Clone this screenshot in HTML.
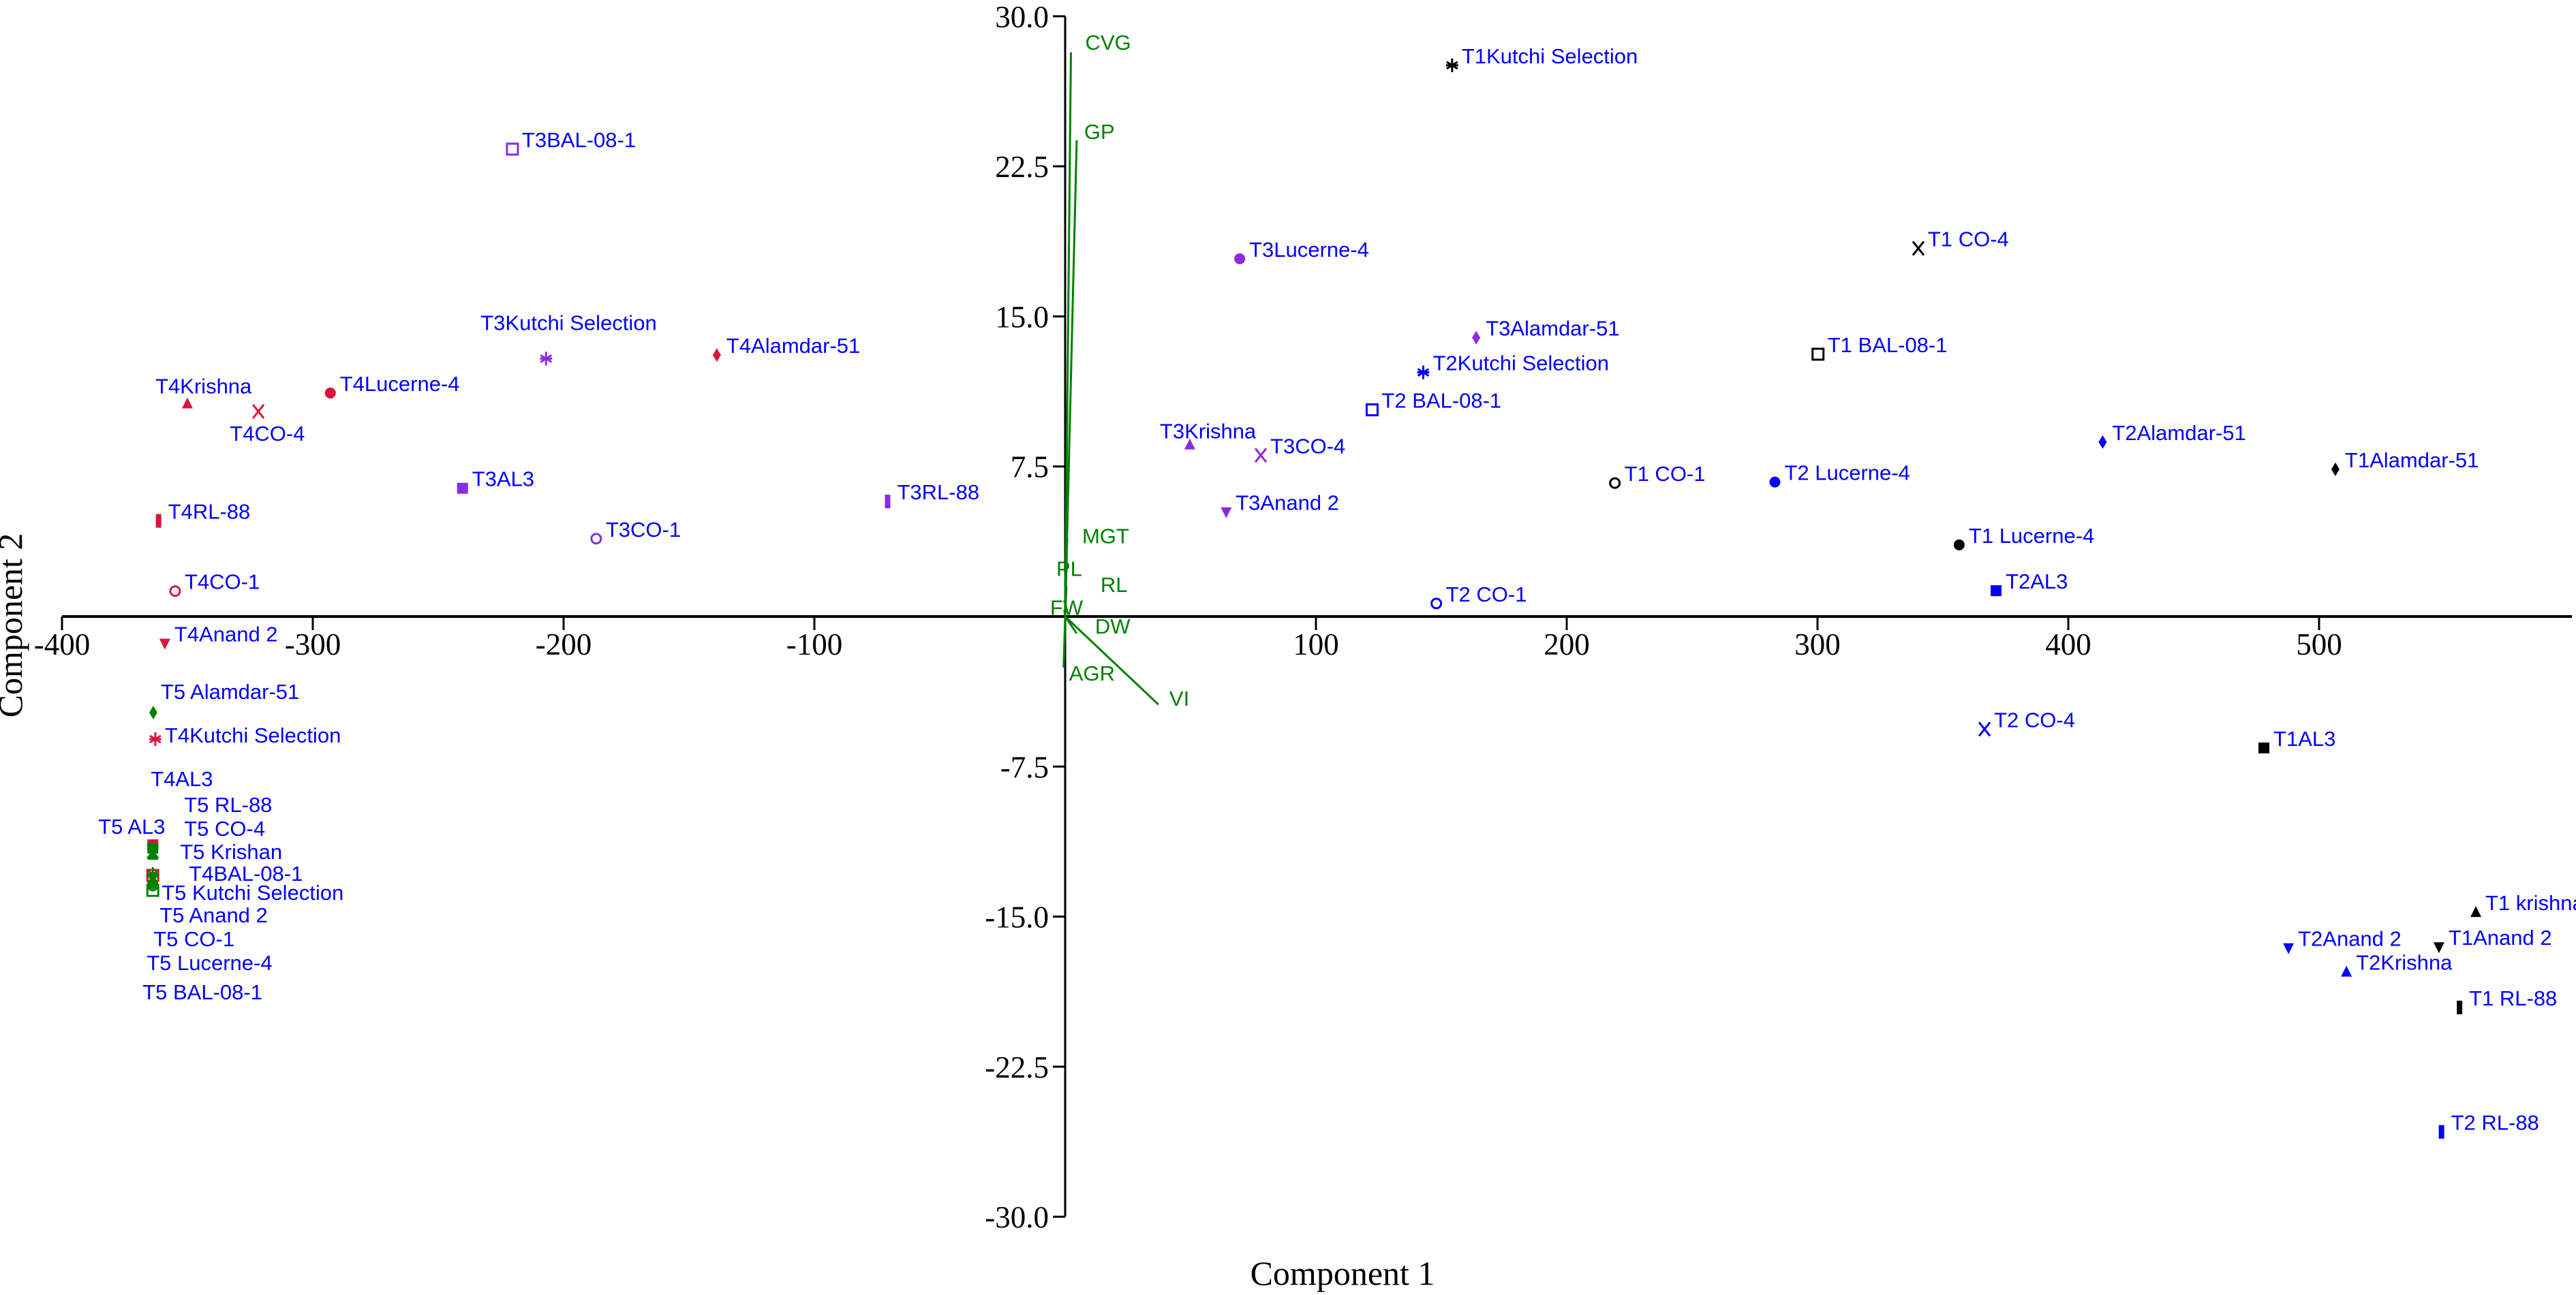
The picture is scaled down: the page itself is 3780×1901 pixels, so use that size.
<!DOCTYPE html>
<html><head><meta charset="utf-8"><style>
html,body{margin:0;padding:0;background:#fff;}
svg{display:block;}
.tk{font-family:"Liberation Serif",serif;font-size:45px;fill:#000;}
.lb{font-family:"Liberation Sans",sans-serif;font-size:31px;fill:#0000ff;}
.vl{font-family:"Liberation Sans",sans-serif;font-size:31px;fill:#008000;}
</style></head><body>
<svg id="chart" width="3780" height="1901" viewBox="0 0 3780 1901" xmlns="http://www.w3.org/2000/svg">
<g id="axes"></g>
<g id="vectors"></g>
<g id="points"></g>
<text class="tk" x="1970" y="1886" text-anchor="middle" style="font-size:50px">Component 1</text>
<text class="tk" x="0" y="0" text-anchor="middle" transform="translate(32,918) rotate(-90)" style="font-size:50px">Component 2</text>
</svg>
<script>
const xTicks = [-400,-300,-200,-100,100,200,300,400,500];
const xTickLabels = ["-400","-300","-200","-100","100","200","300","400","500"];
const yTicks = [30,22.5,15,7.5,-7.5,-15,-22.5,-30];
const yTickLabels = ["30.0","22.5","15.0","7.5","-7.5","-15.0","-22.5","-30.0"];

const names = ["T1Kutchi Selection","T3BAL-08-1","T3Lucerne-4","T1 CO-4","T3Kutchi Selection","T4Alamdar-51","T3Alamdar-51","T2Kutchi Selection","T1 BAL-08-1","T4Lucerne-4","T4Krishna","T4CO-4","T2 BAL-08-1","T3Krishna","T3CO-4","T2Alamdar-51","T1Alamdar-51","T1 CO-1","T2 Lucerne-4","T3AL3","T3RL-88","T3Anand 2","T4RL-88","T3CO-1","T1 Lucerne-4","T4CO-1","T2AL3","T2 CO-1","T4Anand 2","T5 Alamdar-51","T4Kutchi Selection","T2 CO-4","T1AL3","T4AL3","T5 AL3","T5 RL-88","T5 CO-4","T5 Krishan","T4BAL-08-1","T5 Kutchi Selection","T5 Anand 2","T5 Lucerne-4","T5 CO-1","T5 BAL-08-1","T1 krishna","T2Anand 2","T1Anand 2","T2Krishna","T1 RL-88","T2 RL-88"];
const xs = [154.3,-220.4,69.6,340.2,-207,-138.9,163.9,142.8,300.2,-293,-350,-321.7,122.4,49.7,78,413.7,506.5,219.2,283,-240.3,-70.8,64.2,-361.5,-187,356.5,-354.9,371.2,148,-359,-363.6,-362.8,366.6,478,-363.8,-363.8,-363.8,-363.8,-363.8,-363.8,-363.8,-363.8,-363.8,-363.8,-363.8,562.5,487.8,547.8,510.9,556,548.8];
const ys = [27.55,23.36,17.88,18.4,12.89,13.07,13.94,12.2,13.11,11.17,10.64,10.25,10.33,8.59,8.06,8.72,7.36,6.67,6.72,6.41,5.75,5.22,4.78,3.89,3.58,1.27,1.29,0.65,-1.35,-4.8,-6.13,-5.63,-6.57,-11.41,-11.58,-11.68,-11.75,-11.92,-12.94,-12.87,-13.11,-13.35,-13.45,-13.69,-14.78,-16.57,-16.52,-17.76,-19.54,-25.76];
const groups = ["T1","T3","T3","T1","T3","T4","T3","T2","T1","T4","T4","T4","T2","T3","T3","T2","T1","T1","T2","T3","T3","T3","T4","T3","T1","T4","T2","T2","T4","T5","T4","T2","T1","T4","T5","T5","T5","T5","T4","T5","T5","T5","T5","T5","T1","T2","T1","T2","T1","T2"];
const shapes = ["ast","osq","fci","x","ast","dia","dia","ast","osq","fci","tri","x","osq","tri","x","dia","dia","oci","fci","fsq","bar","dtri","bar","oci","fci","oci","fsq","oci","dtri","dia","ast","x","fsq","fsq","fsq","bar","x","tri","osq","ast","dtri","fci","oci","osq","tri","dtri","dtri","tri","bar","bar"];

const vecNames = ["CVG","GP","MGT","PL","RL","FW","DW","AGR","VI"];
const vecX = [2.3,4.6,0.8,0,0.5,-0.3,4.6,-0.6,37.2];
const vecY = [28.2,23.8,3.9,2.2,1.5,0.35,-0.85,-2.55,-4.4];

const labelOffsets = {"T4Krishna":[-47,-26],"T4CO-4":[-42,32],"T3Krishna":[-44,-20],"T3Kutchi Selection":[-96,-53],
"T4AL3":[-3,-97],"T5 RL-88":[46,-67],"T5 AL3":[-80,-32],"T5 CO-4":[46,-34],"T5 Krishan":[40,-5],"T4BAL-08-1":[53,-3],
"T5 Kutchi Selection":[13,27],"T5 Anand 2":[10,53],"T5 CO-1":[1,78],"T5 Lucerne-4":[-9,116],"T5 BAL-08-1":[-15,149],
"T5 Alamdar-51":[11,-31],"T4Kutchi Selection":[14,-6]};
const vecLabelPos = {"CVG":[21,-15],"GP":[11,-13],"MGT":[22,-4],"PL":[-13,-6],"RL":[50,-3],"FW":[-21,-3],"DW":[27,-11],"AGR":[8,8],"VI":[16,-9]};
const groupColor = {"T1":"#000000","T2":"#0000ff","T3":"#8a2be2","T4":"#dc143c","T5":"#008000"};

const X0=1563, PX=3.68, Y0=905, PY=29.37;
const sx = v => X0 + v*PX;
const sy = v => Y0 - v*PY;
const NS="http://www.w3.org/2000/svg";
function mk(tag, attrs, parent){const e=document.createElementNS(NS,tag);for(const k in attrs)e.setAttribute(k,attrs[k]);parent.appendChild(e);return e;}

const axes=document.getElementById('axes');
let xl=mk('line',{x1:sx(-400),y1:Y0,x2:3774,y2:Y0,stroke:'#000','stroke-width':4},axes);


let yl=mk('line',{x1:X0,y1:sy(30),x2:X0,y2:sy(-30),stroke:'#000','stroke-width':3},axes);


xTicks.forEach((t,i)=>{
  const tl=mk('line',{x1:sx(t),y1:Y0,x2:sx(t),y2:Y0+20,stroke:'#000','stroke-width':3},axes);
  
  
  const tx=mk('text',{x:sx(t),y:Y0+56,'text-anchor':'middle','class':'tk'},axes);
  
  
  tx.textContent=xTickLabels[i];
});
yTicks.forEach((t,i)=>{
  const tl=mk('line',{x1:X0-18,y1:sy(t),x2:X0,y2:sy(t),stroke:'#000','stroke-width':3},axes);
  
  
  const tx=mk('text',{x:X0-24,y:sy(t)+16,'text-anchor':'end','class':'tk'},axes);
  
  
  tx.textContent=yTickLabels[i];
});

const vg=document.getElementById('vectors');
vecNames.forEach((n,i)=>{
  const ex=sx(vecX[i]), ey=sy(vecY[i]);
  const l=mk('line',{x1:X0,y1:Y0,x2:ex,y2:ey,stroke:'#008000','stroke-width':3},vg);
  
  
  const o=vecLabelPos[n]||[10,-10];
  const t=mk('text',{x:ex+o[0],y:ey+o[1]+11,'class':'vl'},vg);
  
  
  t.textContent=n;
});

function marker(g,shape,x,y,c){
  const r=8;
  switch(shape){
    case 'fci': mk('circle',{cx:x,cy:y,r:r,fill:c},g);break;
    case 'oci': mk('circle',{cx:x,cy:y,r:r-1,fill:'none',stroke:c,'stroke-width':3},g);break;
    case 'fsq': mk('rect',{x:x-8,y:y-8,width:16,height:16,fill:c},g);break;
    case 'osq': mk('rect',{x:x-8,y:y-8,width:16,height:16,fill:'none',stroke:c,'stroke-width':3},g);break;
    case 'bar': mk('rect',{x:x-4,y:y-10,width:8,height:20,fill:c},g);break;
    case 'tri': mk('polygon',{points:`${x},${y-9} ${x+8},${y+7} ${x-8},${y+7}`,fill:c},g);break;
    case 'dtri': mk('polygon',{points:`${x},${y+9} ${x+8},${y-7} ${x-8},${y-7}`,fill:c},g);break;
    case 'dia': mk('polygon',{points:`${x},${y-10} ${x+6},${y} ${x},${y+10} ${x-6},${y}`,fill:c},g);break;
    case 'x': mk('path',{d:`M${x-8},${y-10}L${x+8},${y+10}M${x+8},${y-10}L${x-8},${y+10}`,stroke:c,'stroke-width':3,fill:'none'},g);break;
    case 'ast': mk('path',{d:`M${x},${y-10}V${y+10}M${x-8},${y-5}L${x+8},${y+5}M${x+8},${y-5}L${x-8},${y+5}M${x-9},${y}H${x+9}`,stroke:c,'stroke-width':3,fill:'none'},g);break;
  }
}
const pg=document.getElementById('points');
names.forEach((n,i)=>{
  const g=mk('g',{},pg);
  
  
  const x=sx(xs[i]), y=sy(ys[i]);
  marker(g,shapes[i],x,y,groupColor[groups[i]]);
  const o=labelOffsets[n]||[14,-14];
  const t=mk('text',{x:x+o[0],y:y+o[1]+11,'class':'lb'},g);
  
  
  t.textContent=n;
});
</script>
</body></html>
